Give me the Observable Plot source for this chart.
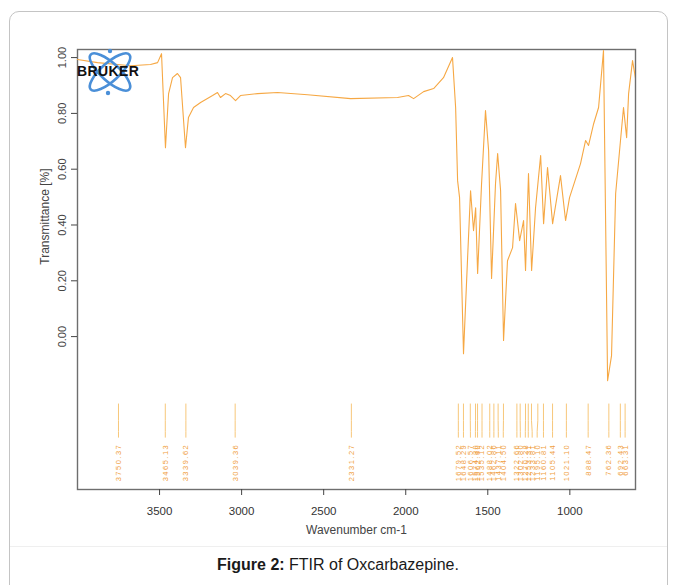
<!DOCTYPE html>
<html><head><meta charset="utf-8">
<script src="https://cdn.jsdelivr.net/npm/d3@7"></script>
<script src="https://cdn.jsdelivr.net/npm/@observablehq/plot@0.6"></script>
<style>
html,body{margin:0;padding:0;background:#fff;}
body{width:676px;height:585px;position:relative;overflow:hidden;font-family:"Liberation Sans",Arial,sans-serif;}
#frame{position:absolute;left:9px;top:11px;width:657px;height:610px;border:1.5px solid #c4c4c4;border-radius:10px;}
#chart{position:absolute;left:0;top:0;}
#sep{position:absolute;left:10px;top:546px;width:657px;height:1px;background:#efefef;}
#caption{position:absolute;left:0;width:676px;top:556px;text-align:center;font-size:16px;color:#1a1a1a;}
#logo{position:absolute;left:76px;top:48px;}
</style></head>
<body>
<div id="frame"></div>
<div id="sep"></div>
<div id="chart"></div>
<svg id="logo" width="72" height="50" viewBox="0 0 72 50">
  <g transform="translate(34,24)" fill="none" stroke="#4a8fd8" stroke-width="2.6">
    <ellipse rx="26" ry="9" transform="rotate(42)"/>
    <ellipse rx="26" ry="9" transform="rotate(-42)"/>
  </g>
  <circle cx="34" cy="3" r="2.2" fill="#4a8fd8"/>
  <circle cx="32" cy="45" r="2.2" fill="#4a8fd8"/>
  <text x="1" y="28" font-family="Liberation Sans, Arial, sans-serif" font-weight="bold" font-size="14" letter-spacing="0.4" fill="#111">BRUKER</text>
</svg>
<div id="caption"><b>Figure 2:</b> FTIR of Oxcarbazepine.</div>
<script>
// ---- data ----
const wavenumber = [4000,3878,3677,3555,3512,3488,3464,3445,3421,3391,3372,3342,3324,3293,3250,3177,3147,3129,3098,3068,3037,3007,2903,2781,2598,2336,2050,1983,1952,1891,1830,1770,1715,1696,1684,1672,1648,1623,1605,1587,1574,1562,1538,1514,1495,1477,1453,1440,1422,1404,1380,1349,1331,1306,1282,1270,1252,1233,1209,1178,1160,1136,1105,1057,1026,1002,935,904,886,855,825,795,770,746,721,697,673,654,642,618,600];
const transmittance = [0.993,0.982,0.971,0.975,0.982,1.014,0.677,0.871,0.928,0.943,0.928,0.677,0.785,0.821,0.839,0.864,0.875,0.857,0.871,0.864,0.846,0.864,0.871,0.875,0.867,0.853,0.857,0.864,0.853,0.878,0.889,0.928,1.0,0.821,0.559,0.498,-0.061,0.283,0.523,0.380,0.462,0.226,0.548,0.810,0.667,0.208,0.548,0.656,0.523,-0.014,0.272,0.319,0.477,0.344,0.416,0.237,0.584,0.237,0.462,0.649,0.405,0.606,0.405,0.577,0.416,0.498,0.620,0.703,0.685,0.763,0.821,1.025,-0.158,-0.068,0.513,0.667,0.821,0.713,0.871,0.989,0.925];
const peakWavenumbers = [3750.37,3465.13,3339.62,3039.36,2331.27,1679.52,1648.29,1606.57,1574.80,1562.40,1535.12,1488.02,1462.86,1437.11,1404.50,1322.66,1302.80,1270.28,1253.31,1233.81,1195.10,1160.81,1105.44,1021.10,888.47,762.36,692.43,663.31];
const peakLabels = ["3750.37","3465.13","3339.62","3039.36","2331.27","1679.52","1648.29","1606.57","1574.80","1562.40","1535.12","1488.02","1462.86","1437.11","1404.50","1322.66","1302.80","1270.28","1253.31","1233.81","1195.10","1160.81","1105.44","1021.10","888.47","762.36","692.43","663.31"];
const xTicks = [3500,3000,2500,2000,1500,1000];
const xTickLabels = ["3500","3000","2500","2000","1500","1000"];
const yTicks = [0,0.2,0.4,0.6,0.8,1.0];
const yTickLabels = ["0.00","0.20","0.40","0.60","0.80","1.00"];

// ---- layout ----
const W = 676, H = 545;
const mL = 77, mR = 41, mT = 49, mB = 56;
const xDom = [4000, 600], yDom = [-0.548, 1.029];
const ORANGE = "#f6a844";
const FONT = "'Liberation Sans',Arial,sans-serif";

const spectrum = wavenumber.map((w, i) => ({w, t: transmittance[i]}));

// spread peak labels so they don't overlap (screen gap -> data units)
const unitsPerPx = (xDom[0] - xDom[1]) / (W - mL - mR);
const gap = 5.0 * unitsPerPx;
const peaks = peakWavenumbers.map((w, i) => ({w, label: peakLabels[i]}));
let lw = peaks.map(p => p.w);
for (let iter = 0; iter < 60; iter++) {
  let clusters = [[0]];
  for (let i = 1; i < lw.length; i++) {
    if (lw[i - 1] - lw[i] < gap - 1e-9) clusters[clusters.length - 1].push(i);
    else clusters.push([i]);
  }
  clusters.forEach(c => {
    const meanOrig = d3.mean(c, i => peaks[i].w);
    const n = c.length;
    c.forEach((i, k) => { lw[i] = meanOrig + gap * ((n - 1) / 2 - k); });
  });
}
peaks.forEach((p, i) => p.lw = Math.max(lw[i], xDom[1] + 4 * unitsPerPx));

const yA = -0.240, yB = -0.300, yC = -0.340, yD = -0.362, yL = -0.384;

const plot = Plot.plot({
  width: W, height: H,
  marginLeft: mL, marginRight: mR, marginTop: mT, marginBottom: mB,
  x: {domain: xDom},
  y: {domain: yDom},
  style: {fontFamily: FONT, fontSize: "11.5px", color: "#333", background: "transparent", overflow: "visible"},
  marks: [
    Plot.frame({stroke: "#6e6e6e", strokeWidth: 1.4}),
    Plot.axisX({ticks: xTicks, tickFormat: (d, i) => xTickLabels[i], tickSize: 6, tickPadding: 11, label: null, fontSize: 11.5, stroke: "#444", fill: "#333"}),
    Plot.axisY({ticks: yTicks, tickSize: 6, fill: "none", label: null, stroke: "#444"}),
    Plot.text(yTicks, {y: d => d, text: (d, i) => yTickLabels[i], frameAnchor: "left", dx: -15, rotate: -90, textAnchor: "middle", fontSize: 11, fill: "#444"}),
    Plot.text([0.43], {y: d => d, text: () => "Transmittance [%]", frameAnchor: "left", dx: -32, rotate: -90, textAnchor: "middle", fontSize: 12, fill: "#444"}),
    Plot.text(["Wavenumber cm-1"], {text: d => d, frameAnchor: "bottom", dy: 44, fontSize: 12, fill: "#444"}),
    // peak pick lines
    Plot.link(peaks, {x1: "w", x2: "w", y1: () => yA, y2: () => yB, stroke: "#f7c77a", strokeWidth: 1}),
    Plot.link(peaks, {x1: "w", x2: "lw", y1: () => yB, y2: () => yC, stroke: "#f7c77a", strokeWidth: 1}),
    Plot.link(peaks, {x1: "lw", x2: "lw", y1: () => yC, y2: () => yD, stroke: "#f7c77a", strokeWidth: 1}),
    Plot.text(peaks, {x: "lw", y: () => yL, text: "label", rotate: -90, textAnchor: "end", fontSize: 7.5, fill: "#f0a040"}),
    // spectrum
    Plot.line(spectrum, {x: "w", y: "t", stroke: ORANGE, strokeWidth: 1.1, clip: "frame"})
  ]
});
// stretch the peak-pick labels like the instrument printout
const labelSet = new Set(peakLabels);
d3.select(plot).selectAll("text").filter(function () { return labelSet.has(this.textContent); })
  .attr("letter-spacing", "1.5");
document.getElementById("chart").appendChild(plot);
</script>
</body></html>
